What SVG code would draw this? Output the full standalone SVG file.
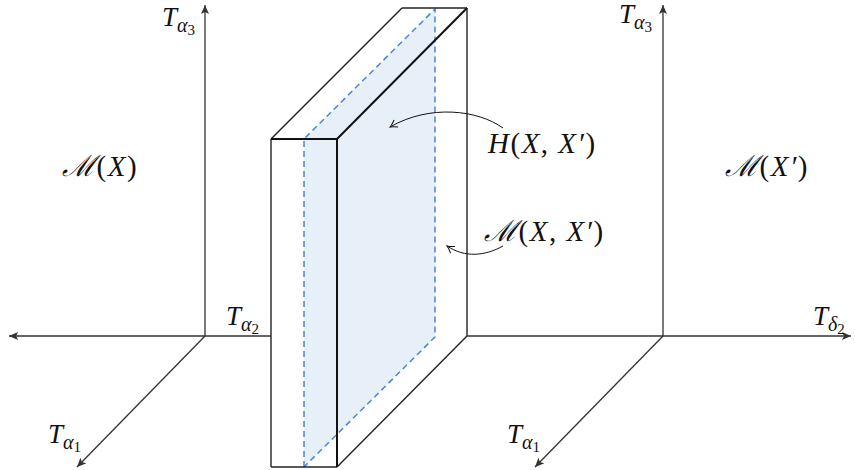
<svg xmlns="http://www.w3.org/2000/svg" width="855" height="470" viewBox="0 0 855 470">
<style>
.ax{stroke:#333;stroke-width:1.3;fill:none}
.ed{stroke:#222;stroke-width:1.4;fill:none}
.edt{stroke:#111;stroke-width:2;fill:none}
.ds{stroke:#4a86d0;stroke-width:1.5;stroke-dasharray:6,4;fill:none}
.cv{stroke:#111;stroke-width:1;fill:none}
text{font-family:"Liberation Serif","DejaVu Serif",serif;fill:#111;font-size:29px;font-style:italic}
text.t{font-size:27px}
text.m{letter-spacing:1.5px}
.up{font-style:normal}
.sb{font-size:20px}
.sd{font-size:15px;font-style:normal}
</style>
<defs>
<marker id="ah" markerUnits="userSpaceOnUse" markerWidth="12" markerHeight="10" refX="9" refY="4" orient="auto">
<path d="M0,0 L9,4 L0,8 L2,4 z" fill="#333"/>
</marker>
<marker id="oh" markerUnits="userSpaceOnUse" markerWidth="12" markerHeight="12" refX="8" refY="5" orient="auto">
<path d="M1,1 Q5,4 8,5 Q5,6 1,9" stroke="#111" stroke-width="1" fill="none"/>
</marker>
</defs>
<g id="slab">
<polygon points="304,139 435,9 435,337 304,467" fill="#e7eff9"/>
<polyline class="ds" points="304,467 304,139 435,9 435,337 304,467"/>
<line class="ed" x1="271" y1="139" x2="402" y2="8"/>
<line class="ed" x1="402" y1="8" x2="467" y2="8"/>
<line class="ed" x1="467" y1="8" x2="467" y2="336"/>
<line class="ed" x1="337" y1="467" x2="467" y2="336"/>
<line class="ed" x1="271" y1="139" x2="271" y2="467"/>
<line class="ed" x1="271" y1="467" x2="337" y2="467"/>
<line class="edt" x1="271" y1="139" x2="337" y2="139"/>
<line class="edt" x1="337" y1="139" x2="337" y2="467"/>
<line class="edt" x1="337" y1="139" x2="467" y2="8"/>
</g>
<g id="connectors">
<line class="ax" x1="205" y1="336" x2="205" y2="5" marker-end="url(#ah)"/>
<line class="ax" x1="271" y1="336" x2="9" y2="336" marker-end="url(#ah)"/>
<line class="ax" x1="205" y1="336" x2="77" y2="467" marker-end="url(#ah)"/>
<line class="ax" x1="663" y1="336" x2="663" y2="5" marker-end="url(#ah)"/>
<line class="ax" x1="467" y1="336" x2="851" y2="336" marker-end="url(#ah)"/>
<line class="ax" x1="663" y1="336" x2="535" y2="467" marker-end="url(#ah)"/>
<path class="cv" d="M503,128 C478,110 430,104 390,127" marker-end="url(#oh)"/>
<path class="cv" d="M503,246 C485,256 465,258 447,246" marker-end="url(#oh)"/>
</g>
<g id="label-Ta3-left"><text class="t" x="162" y="26">T<tspan class="sb" dy="6">α</tspan><tspan class="sd" dy="3">3</tspan></text></g>
<g id="label-Ta3-right"><text class="t" x="619" y="23">T<tspan class="sb" dy="6">α</tspan><tspan class="sd" dy="3">3</tspan></text></g>
<g id="label-Ta2"><text class="t" x="226" y="325">T<tspan class="sb" dy="6">α</tspan><tspan class="sd" dy="3">2</tspan></text></g>
<g id="label-Ta1-left"><text class="t" x="48" y="443">T<tspan class="sb" dy="6">α</tspan><tspan class="sd" dy="3">1</tspan></text></g>
<g id="label-Ta1-right"><text class="t" x="507" y="443">T<tspan class="sb" dy="6">α</tspan><tspan class="sd" dy="3">1</tspan></text></g>
<g id="label-Td2"><text class="t" x="813" y="325">T<tspan class="sb" dy="6">δ</tspan><tspan class="sd" dy="3">2</tspan></text></g>
<g id="label-MX"><text class="m" x="62" y="176">ℳ<tspan class="up">(</tspan>X<tspan class="up">)</tspan></text></g>
<g id="label-MXp"><text class="m" x="725" y="176">ℳ<tspan class="up">(</tspan>X′<tspan class="up">)</tspan></text></g>
<g id="label-H"><text class="m" x="488" y="153">H<tspan class="up">(</tspan>X<tspan class="up">, </tspan>X′<tspan class="up">)</tspan></text></g>
<g id="label-MXX"><text class="m" x="484" y="241">ℳ<tspan class="up">(</tspan>X<tspan class="up">, </tspan>X′<tspan class="up">)</tspan></text></g>
</svg>
